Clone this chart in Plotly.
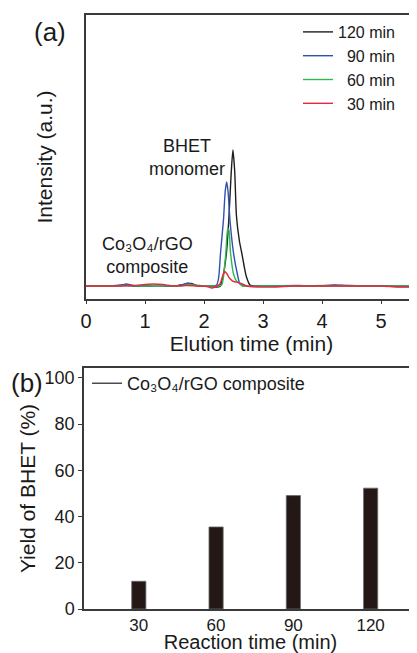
import plotly.graph_objects as go

# ---------------- Data: panel (a) chromatograms ----------------
t_120 = [0, 0.5, 0.65, 0.8, 1.2, 1.5, 1.7, 1.78, 1.9, 2.1, 2.2, 2.27, 2.30, 2.34, 2.38, 2.42, 2.46, 2.49,
         2.52, 2.55, 2.60, 2.64, 2.68, 2.72, 2.78, 2.9, 3.5, 4.2, 5.0, 5.3, 5.61]
i_120 = [0, 0, 0.01, 0, 0.005, 0, 0.02, 0.025, 0.0, 0.0, -0.01, -0.005, 0.04, 0.15, 0.33, 0.66, 1.12, 1.36,
         1.15, 0.70, 0.45, 0.33, 0.20, 0.09, 0.01, 0, 0, 0.005, 0, -0.005, -0.005]

t_90 = [0, 0.4, 0.6, 0.68, 0.8, 1.0, 1.3, 1.5, 1.65, 1.73, 1.82, 2.0, 2.15, 2.215, 2.25, 2.28, 2.33, 2.36,
        2.385, 2.41, 2.44, 2.50, 2.565, 2.61, 2.7, 3.0, 3.6, 4.0, 4.2, 4.4, 4.8, 5.2, 5.61]
i_90 = [0, 0, 0.01, 0.02, 0.005, 0, 0.005, 0, 0.015, 0.03, 0.01, 0, 0, 0.01, 0.09, 0.33, 0.66, 0.95,
        1.04, 0.93, 0.66, 0.33, 0.12, 0.02, 0, 0, 0.005, 0, 0.01, 0.005, 0, 0, 0]

t_60 = [0, 0.5, 0.7, 1.0, 1.3, 1.6, 1.75, 1.9, 2.1, 2.25, 2.30, 2.33, 2.37, 2.40, 2.42, 2.45, 2.50, 2.55,
        2.60, 2.65, 3.0, 4.0, 5.61]
i_60 = [0, 0, 0.005, 0.0, 0.005, 0, 0.015, 0.005, 0, 0, 0.01, 0.09, 0.33, 0.56, 0.57, 0.33, 0.12, 0.05,
        0.03, 0, 0, 0, 0]

t_30 = [0, 0.5, 0.8, 1.0, 1.15, 1.3, 1.5, 1.7, 1.9, 2.05, 2.13, 2.2, 2.27, 2.31, 2.34, 2.36, 2.39, 2.43,
        2.5, 2.58, 2.65, 2.72, 2.9, 3.2, 3.5, 4.0, 4.5, 5.0, 5.3, 5.61]
i_30 = [0, 0, 0.005, 0.015, 0.02, 0.015, 0, 0.005, 0, -0.005, -0.02, -0.005, 0.02, 0.09, 0.135, 0.143, 0.12, 0.08,
        0.045, 0.035, 0.02, 0, -0.01, -0.01, 0, 0, 0, 0, -0.01, -0.01]

series_names = ["120 min", "\u200790 min", "\u200760 min", "\u200730 min"]
series_colors = ["#1e1e1e", "#2f52b0", "#2fb84e", "#e8283e"]

x_ticks_a = [0, 1, 2, 3, 4, 5]

# ---------------- Data: panel (b) yields ----------------
reaction_time = [30, 60, 90, 120]
yield_bhet = [12.0, 35.5, 49.1, 52.3]
y_ticks_b = [0, 20, 40, 60, 80, 100]

FONT = "Liberation Sans, Arial, sans-serif"
AXC = "#3a3a3a"

# page has an 8px body margin: figure is 409x645 placed at (8, 8)
W, H, OFF = 409, 645, 8


def X(px):
    return (px - OFF) / W


def Y(py):
    return 1 - (py - OFF) / H


fig = go.Figure()

for (tx, iy), name, col in zip([(t_120, i_120), (t_90, i_90), (t_60, i_60), (t_30, i_30)],
                               series_names, series_colors):
    fig.add_trace(go.Scatter(x=tx, y=iy, mode="lines", name=name,
                             line=dict(color=col, width=1.4, shape="spline", smoothing=0.6),
                             xaxis="x", yaxis="y", legend="legend"))

fig.add_trace(go.Bar(x=reaction_time, y=yield_bhet, width=5.5, showlegend=False,
                     marker=dict(color="#231816", line=dict(color="#6a6a6a", width=0.8)),
                     xaxis="x2", yaxis="y2"))
# legend entry for panel (b) (line symbol, as in the original)
fig.add_trace(go.Scatter(x=[None], y=[None], mode="lines", name="Co\u2083O\u2084/rGO composite",
                         line=dict(color="#1e1e1e", width=1.2), xaxis="x2", yaxis="y2",
                         legend="legend2"))

fig.update_layout(
    width=W, height=H,
    margin=dict(l=0, r=0, t=0, b=0, autoexpand=False),
    paper_bgcolor="white", plot_bgcolor="white",
    font=dict(family=FONT, color="#1a1a1a"),
    xaxis=dict(domain=[X(86), 1], range=[0, 5.61], tickvals=x_ticks_a, automargin=False,
               showline=True, linecolor=AXC, linewidth=1.5, mirror=True,
               ticks="outside", ticklen=3, tickcolor=AXC, showgrid=False, zeroline=False,
               tickfont=dict(size=20),
               title=dict(text="Elution time (min)", font=dict(size=21), standoff=4),
               anchor="y"),
    yaxis=dict(domain=[Y(299), Y(15)], range=[-0.13, 2.71], automargin=False,
               showline=True, linecolor=AXC, linewidth=1.5, mirror=False,
               showticklabels=False, ticks="", showgrid=False, zeroline=False,
               title=dict(text="Intensity (a.u.)", font=dict(size=21), standoff=26),
               anchor="x"),
    xaxis2=dict(domain=[X(84), 1], range=[8.73, 138.0], tickvals=reaction_time, automargin=False,
                showline=True, linecolor=AXC, linewidth=1.5, mirror=True,
                ticks="", showgrid=False, zeroline=False, tickfont=dict(size=17),
                title=dict(text="Reaction time (min)", font=dict(size=20), standoff=8),
                anchor="y2"),
    yaxis2=dict(domain=[Y(609), Y(368)], range=[0, 104.3], tickvals=y_ticks_b,
                automargin=False,
                showline=True, linecolor=AXC, linewidth=1.5, mirror=False,
                ticks="outside", ticklen=4, tickcolor=AXC, showgrid=False, zeroline=False,
                tickfont=dict(size=18),
                title=dict(text="Yield of BHET (%)", font=dict(size=21), standoff=3),
                anchor="x2"),
    legend=dict(x=X(298), xanchor="left", y=Y(15), yanchor="top",
                bgcolor="rgba(0,0,0,0)", font=dict(size=16), itemwidth=30,
                tracegroupgap=0),
    legend2=dict(x=X(87), xanchor="left", y=Y(365), yanchor="top",
                 bgcolor="rgba(0,0,0,0)", font=dict(size=18), itemwidth=30),
    annotations=[
        dict(text="(a)", x=X(50), y=Y(32), xref="paper", yref="paper",
             xanchor="center", yanchor="middle",
             showarrow=False, font=dict(size=26)),
        dict(text="(b)", x=X(27), y=Y(383), xref="paper", yref="paper",
             xanchor="center", yanchor="middle",
             showarrow=False, font=dict(size=26)),
        dict(text="BHET<br>monomer", x=1.72, y=1.29, xref="x", yref="y",
             xanchor="center", yanchor="middle",
             showarrow=False, font=dict(size=18)),
        dict(text="Co\u2083O\u2084/rGO<br>composite", x=1.05, y=0.31, xref="x", yref="y",
             xanchor="center", yanchor="middle",
             showarrow=False, font=dict(size=18)),
    ],
)

fig.write_html("out.html")
